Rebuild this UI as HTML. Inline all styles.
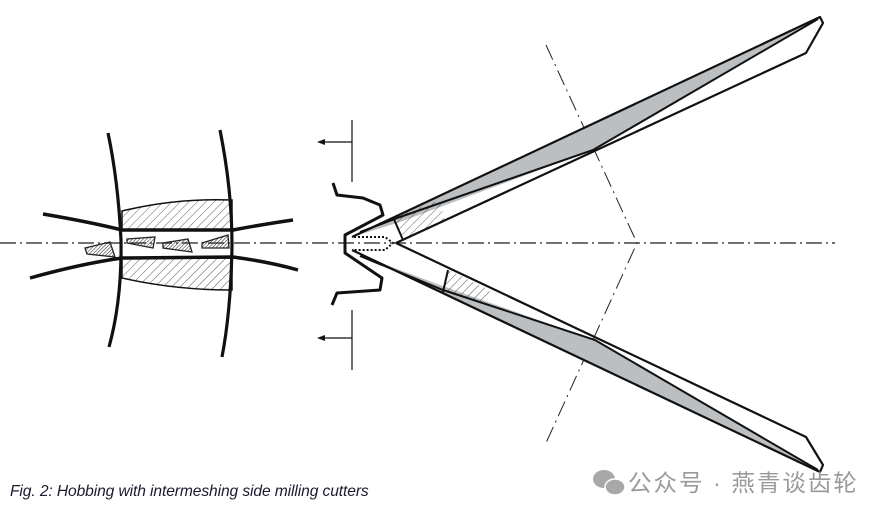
<!DOCTYPE html>
<html><head><meta charset="utf-8"><style>
html,body{margin:0;padding:0;background:#fff;width:880px;height:515px;overflow:hidden}
svg{position:absolute;left:0;top:0}
.cap{position:absolute;left:10px;top:483px;font:italic 15.6px "Liberation Sans",sans-serif;color:#1a1a30;white-space:nowrap;letter-spacing:-0.1px}
.wm{position:absolute;left:628px;top:464px;font:23.5px "Liberation Sans","Noto Sans CJK SC",sans-serif;color:#9a9a9a;white-space:nowrap;letter-spacing:2px}
</style></head><body>
<svg width="880" height="515" viewBox="0 0 880 515">
<defs>
<pattern id="h" width="6" height="6" patternUnits="userSpaceOnUse" patternTransform="rotate(45)"><line x1="0" y1="0" x2="0" y2="6" stroke="#333" stroke-width="0.8"/></pattern>
<pattern id="hd" width="2.5" height="2.5" patternUnits="userSpaceOnUse" patternTransform="rotate(45)"><line x1="0" y1="0" x2="0" y2="2.5" stroke="#222" stroke-width="1"/></pattern>
</defs>
<line x1="0" y1="243" x2="835" y2="243" stroke="#444" stroke-width="1.5" stroke-dasharray="16,4,2,4"/>
<polyline points="546,45 637,243 546,443" fill="none" stroke="#222" stroke-width="1" stroke-dasharray="16,5,2,5"/>
<path d="M122,211 Q175,198 232,200 L232,230 L122,230 Z" fill="url(#h)" stroke="#111" stroke-width="1.5"/>
<path d="M122,258 L232,258 L232,290 Q175,290 122,278 Z" fill="url(#h)" stroke="#111" stroke-width="1.5"/>
<path d="M108,133 Q118,180 121,240 Q122,300 109,347" fill="none" stroke="#111" stroke-width="3.2"/>
<path d="M220,130 Q232,190 232,245 Q231,310 222,357" fill="none" stroke="#111" stroke-width="3.2"/>
<path d="M43,214 Q90,222 122,230 L233,230 Q265,224 293,220" fill="none" stroke="#111" stroke-width="3.5"/>
<path d="M30,278 Q80,264 122,258 L233,257 Q270,262 298,270" fill="none" stroke="#111" stroke-width="3.5"/>
<g fill="url(#hd)" stroke="#222" stroke-width="1.3">
<polygon points="85,248 110,242 115,257 87,254"/>
<polygon points="127,239 155,237 153,248 127,243"/>
<polygon points="163,243 188,239 192,252 163,248"/>
<polygon points="202,243 228,235 229,248 202,248"/>
</g>
<g stroke="#111" stroke-width="1.2" fill="none">
<line x1="352" y1="120" x2="352" y2="182"/><line x1="352" y1="142" x2="322" y2="142"/>
<line x1="352" y1="310" x2="352" y2="370"/><line x1="352" y1="338" x2="322" y2="338"/>
</g>
<polygon points="317,142 325,139 325,145" fill="#111"/>
<polygon points="317,338 325,335 325,341" fill="#111"/>
<polygon points="352,237 820,17 593,150 400,222" fill="#bcbfc2"/>
<polygon points="393,217 440,200 445,222 403,240" fill="url(#h)"/>
<path d="M352,237 L820,17 L823,23 L806,53 L396,243" fill="none" stroke="#111" stroke-width="2.2" stroke-linejoin="round"/>
<path d="M360,232 L400,217 L593,150 L818,19" fill="none" stroke="#111" stroke-width="2"/>
<line x1="393" y1="217" x2="403" y2="240" stroke="#111" stroke-width="2"/>
<polygon points="352,250 820,472 595,340 440,285 360,255" fill="#bcbfc2"/>
<polygon points="448,270 490,290 485,305 443,290" fill="url(#h)"/>
<path d="M352,250 L820,472 L823,465 L806,437 L396,243" fill="none" stroke="#111" stroke-width="2.2" stroke-linejoin="round"/>
<path d="M360,256 L443,290 L595,340 L818,470" fill="none" stroke="#111" stroke-width="2"/>
<line x1="448" y1="270" x2="443" y2="292" stroke="#111" stroke-width="2"/>
<path d="M354,237 L385,237 L393,243 L385,250 L354,250" fill="none" stroke="#111" stroke-width="2" stroke-dasharray="2,2"/>
<polyline points="333,183 337,195 363,198 380,205 383,215 345,235 345,253 382,278 380,290 337,293 332,305" fill="none" stroke="#111" stroke-width="3" stroke-linejoin="round"/>
<ellipse cx="604" cy="479" rx="11" ry="9" fill="#a8a8a8"/>
<ellipse cx="615" cy="487" rx="10" ry="8" fill="#a8a8a8" stroke="#fff" stroke-width="1.5"/>
</svg>
<div class="cap">Fig. 2: Hobbing with intermeshing side milling cutters</div>
<div class="wm">公众号 · 燕青谈齿轮</div>
</body></html>
